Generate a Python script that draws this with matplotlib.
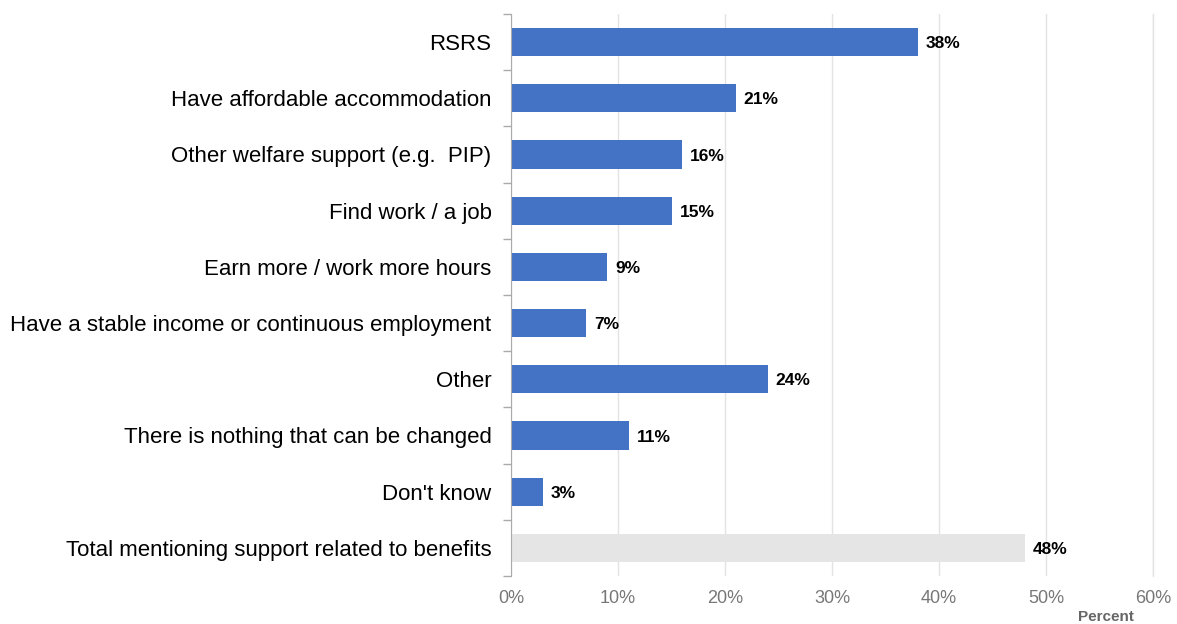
import matplotlib.pyplot as plt
import matplotlib.ticker as mticker

plt.rcParams['font.family'] = ['Liberation Sans', 'DejaVu Sans']

categories = ["RSRS", "Have affordable accommodation", "Other welfare support (e.g.  PIP)",
              "Find work / a job", "Earn more / work more hours",
              "Have a stable income or continuous employment", "Other",
              "There is nothing that can be changed", "Don't know",
              "Total mentioning support related to benefits"]
values = [38, 21, 16, 15, 9, 7, 24, 11, 3, 48]
bar_colors = ["#4472C4"] * 9 + ["#E5E5E5"]
xticks = [0, 10, 20, 30, 40, 50, 60]

fig = plt.figure(figsize=(11.77, 6.24), dpi=100)
ax = fig.add_axes([511 / 1177, 48 / 624, 642 / 1177, 562 / 624])

pos = list(range(len(categories)))
ax.barh(pos, values, height=0.5, color=bar_colors, zorder=2)
for p, v in zip(pos, values):
    ax.text(v + 0.75, p + 0.03, f"{v}%", va="center", ha="left", fontsize=12.5,
            fontweight="bold", color="black", zorder=3)

ax.set_xlim(0, 60)
ax.set_ylim(len(categories) - 0.5, -0.5)
ax.set_xticks(xticks)
ax.xaxis.set_major_formatter(mticker.FuncFormatter(lambda x, _: f"{x:.0f}%"))
ax.tick_params(axis="x", length=0, labelsize=13, labelcolor="#777777", pad=10)

# category labels sit at bar centres, ticks go on the boundaries
ax.set_yticks(pos)
ax.set_yticklabels(categories, fontsize=16)
ax.tick_params(axis="y", which="major", length=0, pad=14)
ax.set_yticks([p - 0.5 for p in pos] + [len(categories) - 0.5], minor=True)
ax.tick_params(axis="y", which="minor", length=6, color="#AAAAAA", width=1)

ax.grid(axis="x", color="#E3E3E3", linewidth=1, zorder=0)
ax.axvline(60, color="#E3E3E3", linewidth=1, zorder=0, clip_on=False)
for s in ["top", "right", "bottom"]:
    ax.spines[s].set_visible(False)
ax.spines["left"].set_color("#AAAAAA")

fig.text(1134 / 1177, 0, "Percent", ha="right", va="bottom",
         fontsize=11, fontweight="bold", color="#666666")

fig.savefig("out.png", dpi=100)
